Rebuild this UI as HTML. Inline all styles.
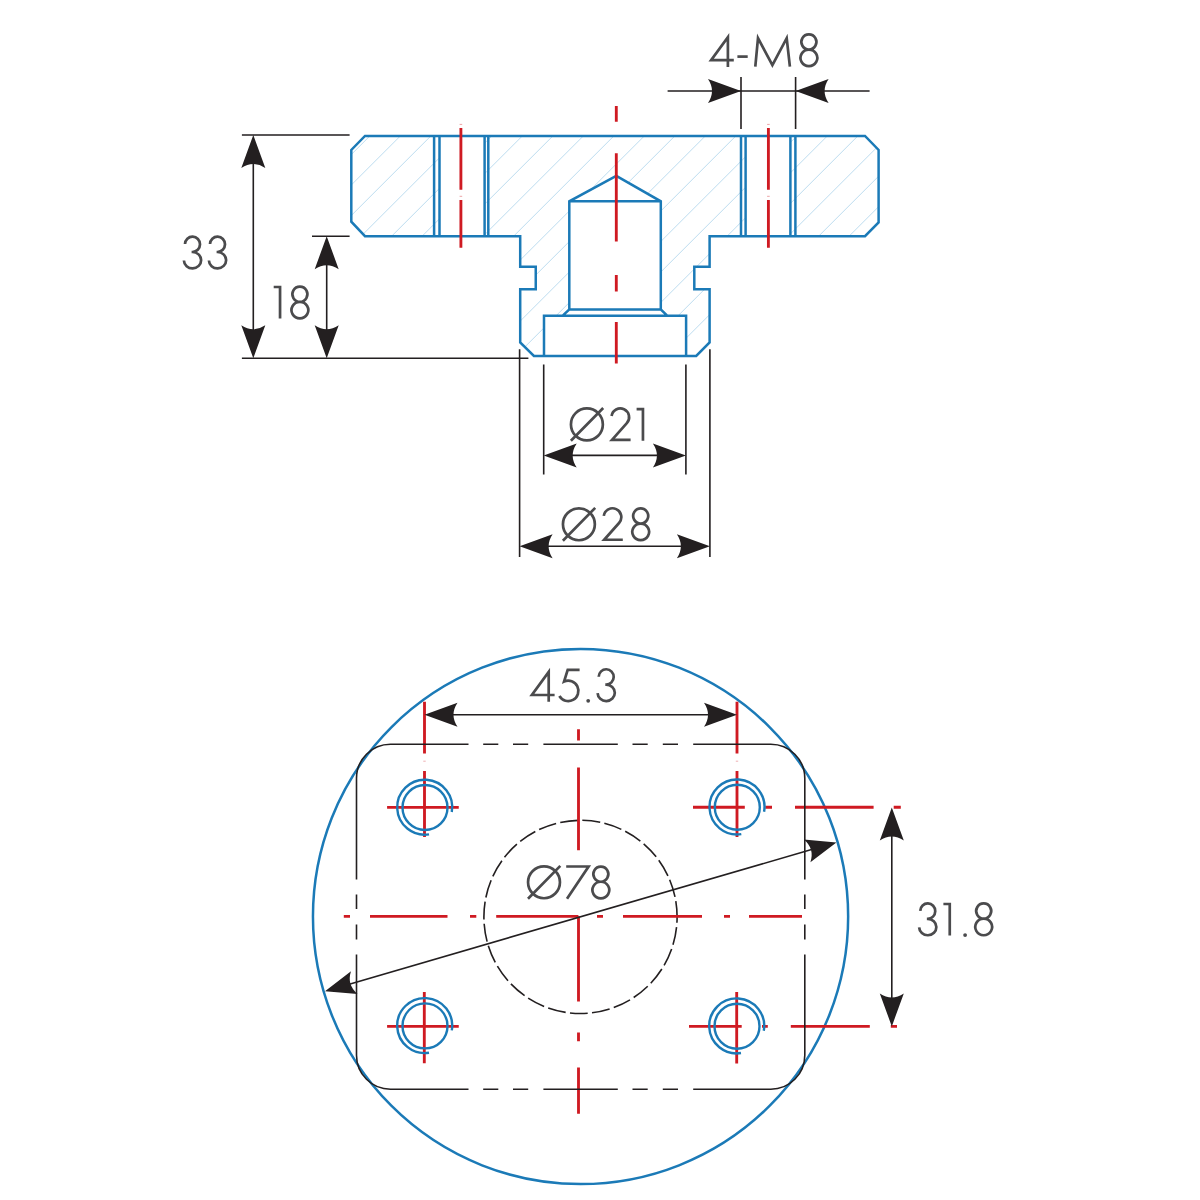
<!DOCTYPE html>
<html><head><meta charset="utf-8"><style>html,body{margin:0;padding:0;background:#fff;}body{width:1200px;height:1200px;overflow:hidden;font-family:"Liberation Sans",sans-serif;}svg{display:block;}</style></head><body>
<svg width="1200" height="1200" viewBox="0 0 1200 1200">
<rect width="1200" height="1200" fill="#fff"/>
<defs><clipPath id="sec"><path clip-rule="evenodd" d="M365 135.9 L865 135.9 L878.6 150 L878.6 222.5 L865 236.2 L709.6 236.2 L709.6 266.7 L694.3 266.7 L694.3 289.3 L709.6 289.3 L709.6 342.5 L696.2 356 L533.9 356 L520.2 342.5 L520.2 289.3 L535.75 289.3 L535.75 266.7 L520.2 266.7 L520.2 236.2 L365 236.2 L351.3 221.7 L351.3 150 Z M616.3 175.8 L660.8 201.3 L660.8 309.5 L667.2 315.7 L686.1 315.7 L686.1 356 L544 356 L544 315.7 L562.7 315.7 L569.3 309.5 L569.3 201.3 Z M439.5 135.9 L484.6 135.9 L484.6 236.2 L439.5 236.2 Z M745.6 135.9 L790.4 135.9 L790.4 236.2 L745.6 236.2 Z"/></clipPath></defs>
<path clip-path="url(#sec)" d="M-478.7 100 L-778.7 400 M-448.2 100 L-748.2 400 M-417.7 100 L-717.7 400 M-387.2 100 L-687.2 400 M-356.7 100 L-656.7 400 M-326.2 100 L-626.2 400 M-295.7 100 L-595.7 400 M-265.2 100 L-565.2 400 M-234.7 100 L-534.7 400 M-204.2 100 L-504.2 400 M-173.7 100 L-473.7 400 M-143.2 100 L-443.2 400 M-112.7 100 L-412.7 400 M-82.2 100 L-382.2 400 M-51.7 100 L-351.7 400 M-21.2 100 L-321.2 400 M9.3 100 L-290.7 400 M39.8 100 L-260.2 400 M70.3 100 L-229.7 400 M100.8 100 L-199.2 400 M131.3 100 L-168.7 400 M161.8 100 L-138.2 400 M192.3 100 L-107.7 400 M222.8 100 L-77.2 400 M253.3 100 L-46.7 400 M283.8 100 L-16.2 400 M314.3 100 L14.3 400 M344.8 100 L44.8 400 M375.3 100 L75.3 400 M405.8 100 L105.8 400 M436.3 100 L136.3 400 M466.8 100 L166.8 400 M497.3 100 L197.3 400 M527.8 100 L227.8 400 M558.3 100 L258.3 400 M588.8 100 L288.8 400 M619.3 100 L319.3 400 M649.8 100 L349.8 400 M680.3 100 L380.3 400 M710.8 100 L410.8 400 M741.3 100 L441.3 400 M771.8 100 L471.8 400 M802.3 100 L502.3 400 M832.8 100 L532.8 400 M863.3 100 L563.3 400 M893.8 100 L593.8 400 M924.3 100 L624.3 400 M954.8 100 L654.8 400 M985.3 100 L685.3 400 M1015.8 100 L715.8 400 M1046.3 100 L746.3 400 M1076.8 100 L776.8 400 M1107.3 100 L807.3 400 M1137.8 100 L837.8 400 M1168.3 100 L868.3 400 M1198.8 100 L898.8 400 M1229.3 100 L929.3 400 M1259.8 100 L959.8 400 M1290.3 100 L990.3 400 M1320.8 100 L1020.8 400 M1351.3 100 L1051.3 400 M1381.8 100 L1081.8 400 M1412.3 100 L1112.3 400 M1442.8 100 L1142.8 400 M1473.3 100 L1173.3 400 M1503.8 100 L1203.8 400 M1534.3 100 L1234.3 400 M1564.8 100 L1264.8 400 M1595.3 100 L1295.3 400 M1625.8 100 L1325.8 400" stroke="#bcdcef" stroke-width="1" fill="none"/>
<g fill="none" stroke="#1b7ab7" stroke-width="2.5" stroke-linejoin="miter">
<path d="M365 135.9 L865 135.9 L878.6 150 L878.6 222.5 L865 236.2 L709.6 236.2 L709.6 266.7 L694.3 266.7 L694.3 289.3 L709.6 289.3 L709.6 342.5 L696.2 356 L533.9 356 L520.2 342.5 L520.2 289.3 L535.75 289.3 L535.75 266.7 L520.2 266.7 L520.2 236.2 L365 236.2 L351.3 221.7 L351.3 150 Z"/>
<path d="M616.3 175.8 L569.3 201.3 L569.3 309.5 L562.7 315.7 M616.3 175.8 L660.8 201.3 L660.8 309.5 L667.2 315.7 M569.3 201.3 L660.8 201.3 M569.3 309.5 L660.8 309.5 M544 356 L544 315.7 L686.1 315.7 L686.1 356"/>
<path d="M434.1 135.9 L434.1 236.2"/>
<path d="M439.5 135.9 L439.5 236.2"/>
<path d="M484.6 135.9 L484.6 236.2"/>
<path d="M488.3 135.9 L488.3 236.2"/>
<path d="M741.0 135.9 L741.0 236.2"/>
<path d="M745.6 135.9 L745.6 236.2"/>
<path d="M790.4 135.9 L790.4 236.2"/>
<path d="M795.4 135.9 L795.4 236.2"/>
</g>
<g fill="none" stroke="#cf1a22" stroke-width="2.85">
<path d="M616.3 106 L616.3 121.7 M616.3 153.3 L616.3 241.6 M616.3 275 L616.3 291.5 M616.3 322 L616.3 363.6"/>
<path d="M460.9 128.1 L460.9 189.7 M460.9 200 L460.9 247.8"/>
<path d="M768.4 128.1 L768.4 189.7 M768.4 200 L768.4 247.8"/>
</g>
<path d="M459.59999999999997 124.4 L462.2 124.4 M459.59999999999997 196.3 L462.2 196.3" stroke="#cf1a22" stroke-width="0.8" opacity="0.5"/>
<path d="M767.1 124.4 L769.6999999999999 124.4 M767.1 196.3 L769.6999999999999 196.3" stroke="#cf1a22" stroke-width="0.8" opacity="0.5"/>
<g fill="none" stroke="#231f20" stroke-width="1.6">
<path d="M241.9 135 L349.6 135 M241.9 358.2 L528.4 358.2 M312 236.2 L349.6 236.2"/>
<path d="M253.3 150 L253.3 345 M326.7 250 L326.7 345"/>
<path d="M667.6 91 L869.6 91 M741 77 L741 129 M795.6 77 L795.6 129"/>
<path d="M519.6 349.3 L519.6 557 M709.9 349.3 L709.9 557 M543.7 364.4 L543.7 474.6 M685.9 364.4 L685.9 474.6"/>
<path d="M555 455.4 L675 455.4 M530 546.3 L700 546.3"/>
</g>
<path transform="translate(253.30 135.00) rotate(-90.000)" d="M0 0 L-33.0 -12.0 Q-25.0 0 -33.0 12.0 Z" fill="#231f20"/>
<path transform="translate(253.30 358.20) rotate(90.000)" d="M0 0 L-33.0 -12.0 Q-25.0 0 -33.0 12.0 Z" fill="#231f20"/>
<path transform="translate(326.70 236.20) rotate(-90.000)" d="M0 0 L-33.0 -12.0 Q-25.0 0 -33.0 12.0 Z" fill="#231f20"/>
<path transform="translate(326.70 358.20) rotate(90.000)" d="M0 0 L-33.0 -12.0 Q-25.0 0 -33.0 12.0 Z" fill="#231f20"/>
<path transform="translate(741.00 91.00) rotate(0.000)" d="M0 0 L-33.0 -12.0 Q-25.0 0 -33.0 12.0 Z" fill="#231f20"/>
<path transform="translate(795.60 91.00) rotate(180.000)" d="M0 0 L-33.0 -12.0 Q-25.0 0 -33.0 12.0 Z" fill="#231f20"/>
<path transform="translate(543.70 455.40) rotate(180.000)" d="M0 0 L-33.0 -12.0 Q-25.0 0 -33.0 12.0 Z" fill="#231f20"/>
<path transform="translate(685.90 455.40) rotate(0.000)" d="M0 0 L-33.0 -12.0 Q-25.0 0 -33.0 12.0 Z" fill="#231f20"/>
<path transform="translate(519.60 546.30) rotate(180.000)" d="M0 0 L-33.0 -12.0 Q-25.0 0 -33.0 12.0 Z" fill="#231f20"/>
<path transform="translate(709.90 546.30) rotate(0.000)" d="M0 0 L-33.0 -12.0 Q-25.0 0 -33.0 12.0 Z" fill="#231f20"/>
<circle cx="580.55" cy="916.5" r="267.6" fill="none" stroke="#1b7ab7" stroke-width="2.5"/>
<circle cx="580.5" cy="916.9" r="96.6" fill="none" stroke="#231f20" stroke-width="1.6" stroke-dasharray="18 4.3" stroke-dashoffset="11.95"/>
<g fill="none" stroke="#cf1a22" stroke-width="2.85">
<path d="M578.5 729.3 L578.5 740.5 M578.5 767.4 L578.5 850.3 M578.5 916.3 L578.5 1001.6 M578.5 1032.5 L578.5 1041.3 M578.5 1067.5 L578.5 1113.8"/>
<path d="M343.8 916.3 L350 916.3 M370 916.3 L447.5 916.3 M470 916.3 L476.3 916.3 M496.2 916.3 L578.4 916.3 M597 916.3 L603 916.3 M623 916.3 L702 916.3 M724 916.3 L730 916.3 M749 916.3 L802 916.3"/>
<path d="M387.1 807.35 L458.75 807.35 M387.1 1026.4 L458.75 1026.4"/>
<path d="M693 807.2 L744.8 807.2 M765.3 807.2 L772 807.2 M795 807.2 L873.6 807.2 M893.7 807.2 L900.8 807.2"/>
<path d="M689 1026.4 L741.7 1026.4 M762 1026.4 L767.8 1026.4 M790.8 1026.4 L869.8 1026.4 M890.8 1026.4 L897 1026.4"/>
<path d="M424.5 701.8 L424.5 753.6 M424.5 771 L424.5 836.9"/>
<path d="M423.3 761.2 L425.7 761.2" stroke-width="1" opacity="0.35"/>
<path d="M737.0 701.8 L737.0 753.6 M737.0 771 L737.0 836.9"/>
<path d="M735.8 761.2 L738.2 761.2" stroke-width="1" opacity="0.35"/>
<path d="M424.3 992 L424.3 1063.3 M736.7 991.9 L736.7 1063.4"/>
</g>
<circle cx="425.0" cy="807.5" r="22.5" fill="none" stroke="#1b7ab7" stroke-width="2.4"/>
<path d="M451.78 811.98 A27.50 27.50 0 1 0 429.00 834.36" fill="none" stroke="#1b7ab7" stroke-width="2.4"/>
<circle cx="737.3" cy="807.3" r="22.5" fill="none" stroke="#1b7ab7" stroke-width="2.4"/>
<path d="M764.08 811.78 A27.50 27.50 0 1 0 741.30 834.16" fill="none" stroke="#1b7ab7" stroke-width="2.4"/>
<circle cx="425.0" cy="1025.9" r="22.5" fill="none" stroke="#1b7ab7" stroke-width="2.4"/>
<path d="M451.78 1030.38 A27.50 27.50 0 1 0 429.00 1052.76" fill="none" stroke="#1b7ab7" stroke-width="2.4"/>
<circle cx="737.0" cy="1026.2" r="22.5" fill="none" stroke="#1b7ab7" stroke-width="2.4"/>
<path d="M763.78 1030.68 A27.50 27.50 0 1 0 741.00 1053.06" fill="none" stroke="#1b7ab7" stroke-width="2.4"/>
<g fill="none" stroke="#231f20" stroke-width="1.6">
<path d="M390.5 744.3 A34 34 0 0 0 356.5 778.3 L356.5 879.5 M356.5 954.5 L356.5 1055.2 A34 34 0 0 0 390.5 1089.2 L468.5 1089.2 M693.2 1089.2 L770.8 1089.2 A34 34 0 0 0 804.8 1055.2 L804.8 954.5 M804.8 879.5 L804.8 778.3 A34 34 0 0 0 770.8 744.3 L693.2 744.3 M468.5 744.3 L390.5 744.3"/>
<path d="M483.2 744.3 L498.3 744.3 M513 744.3 L528.2 744.3 M543.4 744.3 L617.8 744.3 M632.5 744.3 L647.7 744.3 M662.8 744.3 L678 744.3"/>
<path d="M483.2 1089.2 L498.3 1089.2 M513 1089.2 L528.2 1089.2 M543.4 1089.2 L617.8 1089.2 M632.5 1089.2 L647.7 1089.2 M662.8 1089.2 L678 1089.2"/>
<path d="M356.5 894.5 L356.5 909 M356.5 924.5 L356.5 939.5"/>
<path d="M804.8 894.5 L804.8 909 M804.8 924.5 L804.8 939.5"/>
</g>
<g fill="none" stroke="#231f20" stroke-width="1.6">
<path d="M440 714.7 L720 714.7"/>
<path d="M891.8 830 L891.8 1004"/>
<path d="M345 985.4 L815 848.6"/>
</g>
<path transform="translate(424.50 714.70) rotate(180.000)" d="M0 0 L-33.0 -12.0 Q-25.0 0 -33.0 12.0 Z" fill="#231f20"/>
<path transform="translate(737.00 714.70) rotate(0.000)" d="M0 0 L-33.0 -12.0 Q-25.0 0 -33.0 12.0 Z" fill="#231f20"/>
<path transform="translate(891.80 807.60) rotate(-90.000)" d="M0 0 L-33.0 -12.0 Q-25.0 0 -33.0 12.0 Z" fill="#231f20"/>
<path transform="translate(891.80 1026.40) rotate(90.000)" d="M0 0 L-33.0 -12.0 Q-25.0 0 -33.0 12.0 Z" fill="#231f20"/>
<path transform="translate(836.40 842.40) rotate(-16.223)" d="M0 0 L-30.5 -11.8 Q-22.5 0 -30.5 11.8 Z" fill="#231f20"/>
<path transform="translate(325.00 991.20) rotate(163.777)" d="M0 0 L-30.5 -11.8 Q-22.5 0 -30.5 11.8 Z" fill="#231f20"/>
<g fill="none" stroke="#4b4b4d" stroke-width="2.7" stroke-linejoin="miter" stroke-miterlimit="6">
<path transform="translate(709.20 33.50)" d="M24.6 26.7 L1.9 26.7 L18.7 3.6 L18.7 33.4" />
<path transform="translate(737.40 33.70)" d="M0 22.9 L10.3 22.9" />
<path transform="translate(754.00 33.70)" d="M1.3 33 L4.0 4.5 L18.4 31.5 L32.7 4.5 L35.9 33" />
<path transform="translate(799.30 33.00)" d="M9.60 1.35 A7.5 7.6 0 1 1 9.59 1.35 Z M9.60 16.55 A8.4 8.3 0 1 1 9.59 16.55 Z" />
<path transform="translate(183.00 235.25)" d="M2.00 8.78 A7.50 7.70 0 1 1 9.50 16.75 L8.60 16.75 M8.60 16.75 L9.50 16.75 A8.60 8.20 0 1 1 0.91 25.24" />
<path transform="translate(208.00 235.25)" d="M2.00 8.78 A7.50 7.70 0 1 1 9.50 16.75 L8.60 16.75 M8.60 16.75 L9.50 16.75 A8.60 8.20 0 1 1 0.91 25.24" />
<path transform="translate(273.70 285.00)" d="M0 2.0 L6.35 2.0 M6.35 0.65 L6.35 33.6" />
<path transform="translate(290.30 285.30)" d="M9.60 1.35 A7.5 7.6 0 1 1 9.59 1.35 Z M9.60 16.55 A8.4 8.3 0 1 1 9.59 16.55 Z" />
<path transform="translate(569.60 407.10)" d="M33.25 17.3 A15.95 15.95 0 0 1 1.35 17.3 A15.95 15.95 0 0 1 33.25 17.3 Z M1.3 33.7 L33.6 0.9" />
<path transform="translate(610.00 407.10)" d="M1.59 8.88 A8.80 8.80 0 1 1 16.84 15.99 L2.0 32.75 L20.6 32.75" />
<path transform="translate(636.60 407.20)" d="M0 2.0 L6.35 2.0 M6.35 0.65 L6.35 33.6" />
<path transform="translate(561.60 507.00)" d="M33.25 17.3 A15.95 15.95 0 0 1 1.35 17.3 A15.95 15.95 0 0 1 33.25 17.3 Z M1.3 33.7 L33.6 0.9" />
<path transform="translate(602.20 507.00)" d="M1.59 8.88 A8.80 8.80 0 1 1 16.84 15.99 L2.0 32.75 L20.6 32.75" />
<path transform="translate(631.10 507.00)" d="M9.60 1.35 A7.5 7.6 0 1 1 9.59 1.35 Z M9.60 16.55 A8.4 8.3 0 1 1 9.59 16.55 Z" />
<path transform="translate(530.00 668.30)" d="M24.6 26.7 L1.9 26.7 L18.7 3.6 L18.7 33.4" />
<path transform="translate(558.30 668.30)" d="M21.3 1.5 L9.4 1.5 L5.75 13.28 A10.20 10.20 0 1 1 1.07 27.70" />
<path transform="translate(596.70 667.90)" d="M2.00 8.78 A7.50 7.70 0 1 1 9.50 16.75 L8.60 16.75 M8.60 16.75 L9.50 16.75 A8.60 8.20 0 1 1 0.91 25.24" />
<path transform="translate(526.70 865.00)" d="M33.25 17.3 A15.95 15.95 0 0 1 1.35 17.3 A15.95 15.95 0 0 1 33.25 17.3 Z M1.3 33.7 L33.6 0.9" />
<path transform="translate(565.00 865.00)" d="M1.2 1.5 L23.6 1.5 L2.0 33.8" />
<path transform="translate(591.25 865.20)" d="M9.60 1.35 A7.5 7.6 0 1 1 9.59 1.35 Z M9.60 16.55 A8.4 8.3 0 1 1 9.59 16.55 Z" />
<path transform="translate(918.25 902.10)" d="M2.00 8.78 A7.50 7.70 0 1 1 9.50 16.75 L8.60 16.75 M8.60 16.75 L9.50 16.75 A8.60 8.20 0 1 1 0.91 25.24" />
<path transform="translate(943.40 902.00)" d="M0 2.0 L6.35 2.0 M6.35 0.65 L6.35 33.6" />
<path transform="translate(974.10 902.10)" d="M9.60 1.35 A7.5 7.6 0 1 1 9.59 1.35 Z M9.60 16.55 A8.4 8.3 0 1 1 9.59 16.55 Z" />
</g>
<circle cx="588.2" cy="700.8" r="1.9" fill="#4b4b4d" stroke="none"/>
<circle cx="965.1" cy="935.1" r="1.9" fill="#4b4b4d" stroke="none"/>
</svg>
</body></html>
